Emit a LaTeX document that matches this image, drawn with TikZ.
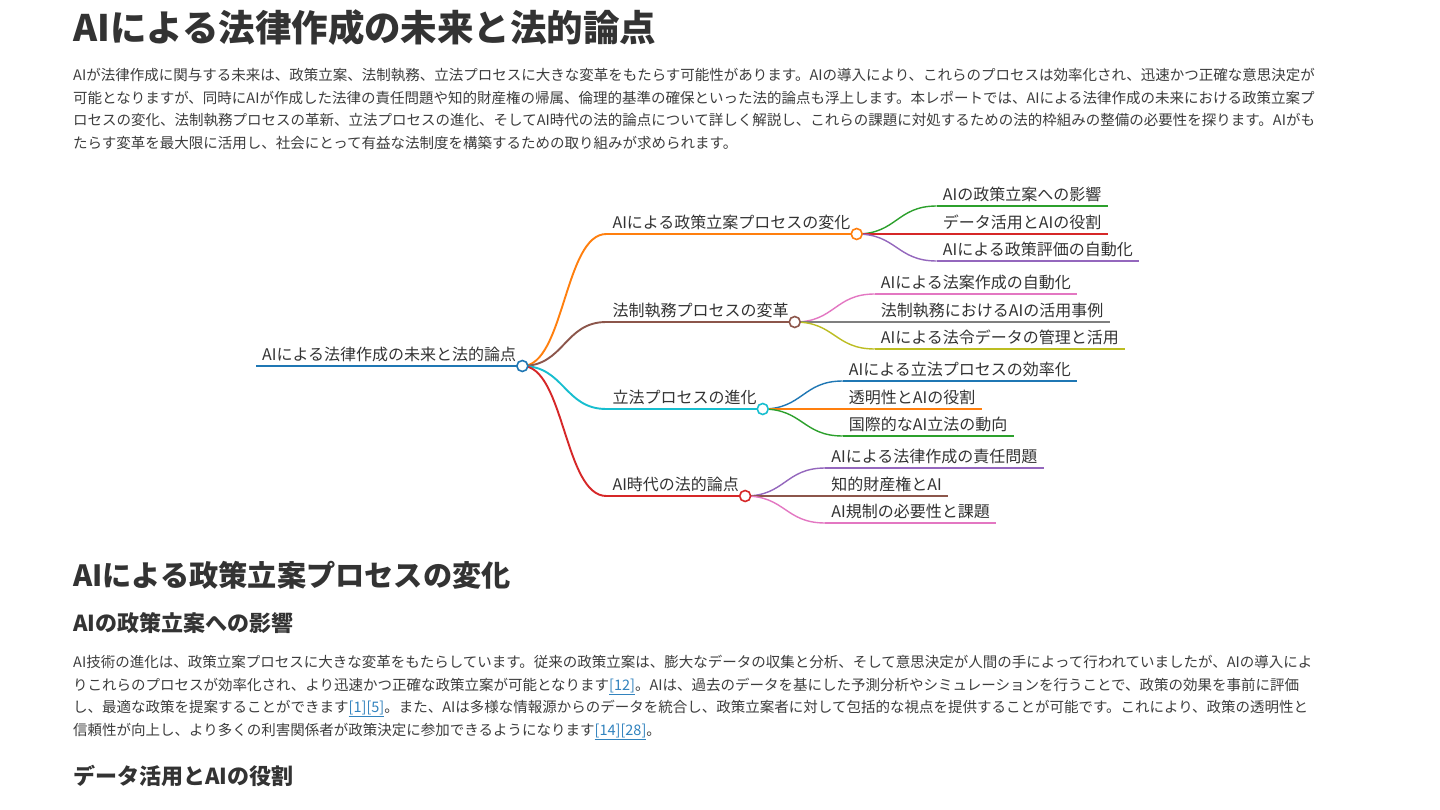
\documentclass[tikz,border=0pt]{standalone}
\usepackage{fontspec}
\setmainfont{Noto Sans CJK JP}
\usetikzlibrary{positioning,calc}

\definecolor{ink}{HTML}{333333}
\definecolor{body}{HTML}{3D3D3D}
\definecolor{linkc}{HTML}{3283BE}
\definecolor{c0}{HTML}{1F77B4}
\definecolor{c1}{HTML}{FF7F0E}
\definecolor{c2}{HTML}{2CA02C}
\definecolor{c3}{HTML}{D62728}
\definecolor{c4}{HTML}{9467BD}
\definecolor{c5}{HTML}{8C564B}
\definecolor{c6}{HTML}{E377C2}
\definecolor{c7}{HTML}{7F7F7F}
\definecolor{c8}{HTML}{BCBD22}
\definecolor{c9}{HTML}{17BECF}

\newcommand\refno[1]{\textcolor{linkc}{\underline{[#1]}}}

\begin{document}
\begin{tikzpicture}[x=1pt, y=-1pt,
    mm/.style={anchor=south west, inner xsep=6pt, inner ysep=5.5pt, text depth=0pt, text=ink, font=\fontsize{16}{16}\selectfont},
    dot/.style={circle, fill=white, inner sep=0pt, minimum size=11pt, line width=1.6pt},
    lv0/.style={line width=2.4pt},
    lv1/.style={line width=1.9pt},
    lv2/.style={line width=1.4pt},
    para/.style={anchor=base west, inner sep=0pt, align=left, text=body, font=\fontsize{14.5}{22.7}\selectfont},
    head/.style={anchor=base west, inner sep=0pt, text=ink, font=\bfseries}
]
    \fill[white] (0,0) rectangle (1440,810);
    \useasboundingbox (0,0) rectangle (1440,810);

    % Title and intro (para nodes sit on the baseline of their last line)
    \node[head, font=\bfseries\fontsize{36.5}{40}\selectfont] (title) at (73,42) {AIによる法律作成の未来と法的論点};
    \node[para] (intro) at (73,148.5) {%
        AIが法律作成に関与する未来は、政策立案、法制執務、立法プロセスに大きな変革をもたらす可能性があります。AIの導入により、これらのプロセスは効率化され、迅速かつ正確な意思決定が\\
        可能となりますが、同時にAIが作成した法律の責任問題や知的財産権の帰属、倫理的基準の確保といった法的論点も浮上します。本レポートでは、AIによる法律作成の未来における政策立案プ\\
        ロセスの変化、法制執務プロセスの革新、立法プロセスの進化、そしてAI時代の法的論点について詳しく解説し、これらの課題に対処するための法的枠組みの整備の必要性を探ります。AIがも\\
        たらす変革を最大限に活用し、社会にとって有益な法制度を構築するための取り組みが求められます。};

    % Mind map: root
    \node[mm] (root) at (256,366) {AIによる法律作成の未来と法的論点};

    % Branches
    \node[above right=132pt and 84pt of root.south east, mm] (pol) {AIによる政策立案プロセスの変化};
    \node[above right=44pt and 84pt of root.south east, mm] (draft) {法制執務プロセスの変革};
    \node[below right=43pt and 84pt of root.south east, mm] (legis) {立法プロセスの進化};
    \node[below right=130pt and 84pt of root.south east, mm] (era) {AI時代の法的論点};

    % Leaves
    \node[above right=28pt and 80pt of pol.south east, mm] (pola) {AIの政策立案への影響};
    \node[right=80pt of pol.south east, mm] (polb) {データ活用とAIの役割};
    \node[below right=27pt and 80pt of pol.south east, mm] (polc) {AIによる政策評価の自動化};

    \node[above right=28pt and 80pt of draft.south east, mm] (drafta) {AIによる法案作成の自動化};
    \node[right=80pt of draft.south east, mm] (draftb) {法制執務におけるAIの活用事例};
    \node[below right=27pt and 80pt of draft.south east, mm] (draftc) {AIによる法令データの管理と活用};

    \node[above right=28pt and 80pt of legis.south east, mm] (legisa) {AIによる立法プロセスの効率化};
    \node[right=80pt of legis.south east, mm] (legisb) {透明性とAIの役割};
    \node[below right=27pt and 80pt of legis.south east, mm] (legisc) {国際的なAI立法の動向};

    \node[above right=28pt and 80pt of era.south east, mm] (eraa) {AIによる法律作成の責任問題};
    \node[right=80pt of era.south east, mm] (erab) {知的財産権とAI};
    \node[below right=27pt and 80pt of era.south east, mm] (erac) {AI規制の必要性と課題};

    % Links
    \foreach \n/\c in {pol/c1, draft/c5, legis/c9, era/c3}
        \draw[lv1, \c] (root.south east) .. controls +(42,0) and +(-42,0) .. (\n.south west);
    \foreach \p/\n/\c in {pol/pola/c2, pol/polb/c3, pol/polc/c4,
                          draft/drafta/c6, draft/draftb/c7, draft/draftc/c8,
                          legis/legisa/c0, legis/legisb/c1, legis/legisc/c2,
                          era/eraa/c4, era/erab/c5, era/erac/c6}
        \draw[lv2, \c] (\p.south east) .. controls +(40,0) and +(-40,0) .. (\n.south west);

    % Underlines
    \draw[lv0, c0] (root.south west) -- (root.south east);
    \foreach \n/\c in {pol/c1, draft/c5, legis/c9, era/c3}
        \draw[lv1, \c] (\n.south west) -- (\n.south east);
    \foreach \n/\c in {pola/c2, polb/c3, polc/c4, drafta/c6, draftb/c7, draftc/c8,
                       legisa/c0, legisb/c1, legisc/c2, eraa/c4, erab/c5, erac/c6}
        \draw[lv2, \c] (\n.south west) -- (\n.south east);

    % Circles
    \node[dot, draw=c0] (rootdot) at (root.south east) {};
    \node[dot, draw=c1] (poldot) at (pol.south east) {};
    \node[dot, draw=c5] (draftdot) at (draft.south east) {};
    \node[dot, draw=c9] (legisdot) at (legis.south east) {};
    \node[dot, draw=c3] (eradot) at (era.south east) {};

    % Section
    \node[head, font=\bfseries\fontsize{29.2}{32}\selectfont] (sec) at (73,586) {AIによる政策立案プロセスの変化};
    \node[head, font=\bfseries\fontsize{22}{26}\selectfont] (sub1) at (73,631) {AIの政策立案への影響};
    \node[para] (text1) at (73,735.5) {%
        AI技術の進化は、政策立案プロセスに大きな変革をもたらしています。従来の政策立案は、膨大なデータの収集と分析、そして意思決定が人間の手によって行われていましたが、AIの導入によ\\
        りこれらのプロセスが効率化され、より迅速かつ正確な政策立案が可能となります\refno{12}。AIは、過去のデータを基にした予測分析やシミュレーションを行うことで、政策の効果を事前に評価\\
        し、最適な政策を提案することができます\refno{1}\refno{5}。また、AIは多様な情報源からのデータを統合し、政策立案者に対して包括的な視点を提供することが可能です。これにより、政策の透明性と\\
        信頼性が向上し、より多くの利害関係者が政策決定に参加できるようになります\refno{14}\refno{28}。};
    \node[head, font=\bfseries\fontsize{22}{26}\selectfont] (sub2) at (73,784) {データ活用とAIの役割};
\end{tikzpicture}
\end{document}
